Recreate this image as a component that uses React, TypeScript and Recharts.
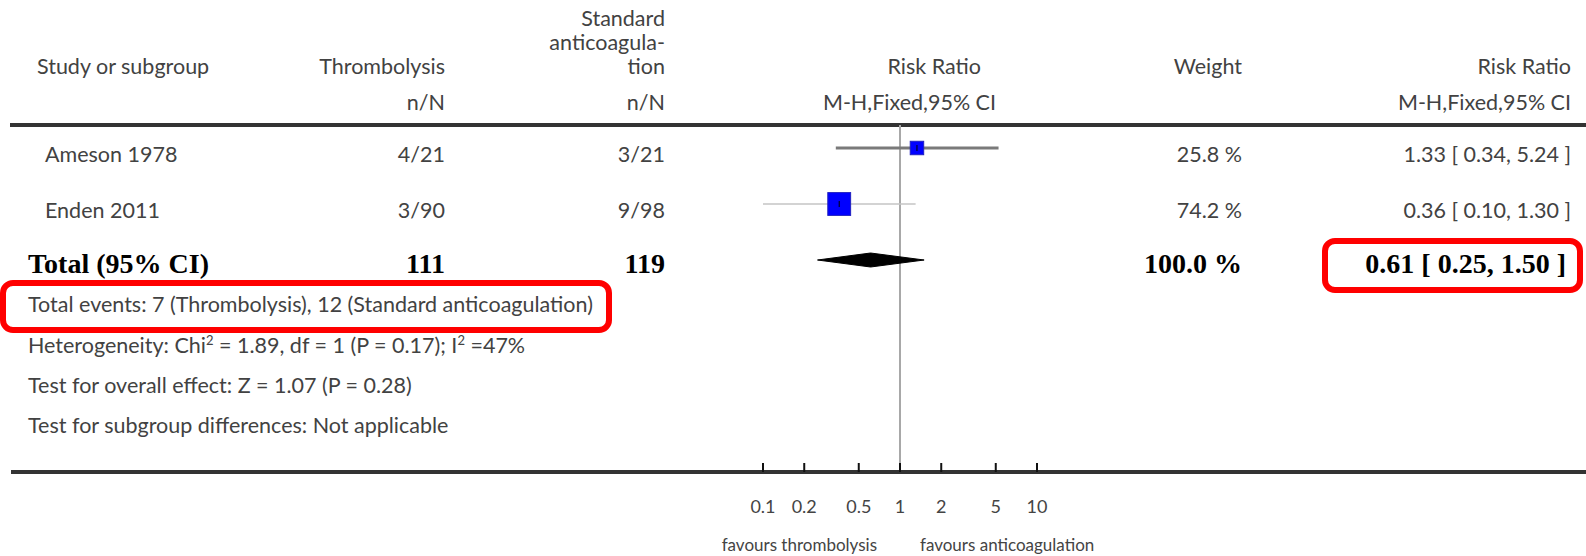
import React from 'react';
import { ComposedChart, XAxis, YAxis, Scatter, ReferenceLine, Customized } from 'recharts';

// ---------- data ----------
const studies = ['Ameson 1978', 'Enden 2011'];
const thrombEvents = [4, 3];
const thrombTotals = [21, 90];
const anticoagEvents = [3, 9];
const anticoagTotals = [21, 98];
const riskRatios = [1.33, 0.36];
const ciLower = [0.34, 0.1];
const ciUpper = [5.24, 1.3];
const weights = [25.8, 74.2];
const rowPositions = [0.46, 1.58];

const totalLabel = 'Total (95% CI)';
const totalThromb = 111;
const totalAnticoag = 119;
const totalRR = 0.61;
const totalLower = 0.25;
const totalUpper = 1.5;
const totalWeight = 100.0;
const totalRowPosition = 2.7;

const axisTicks = [0.1, 0.2, 0.5, 1, 2, 5, 10];
const favoursLeft = 'favours thrombolysis';
const favoursRight = 'favours anticoagulation';

// ---------- layout / style ----------
const W = 1586;
const H = 556;
const TOP = 125;
const AXIS_Y = 472;
const UNIT = 50;
const Y_MAX = (AXIS_Y - TOP) / UNIT;
const SANS = "Lato, 'Open Sans', sans-serif";
const SERIF = "'Liberation Serif', 'DejaVu Serif', serif";
const GREY = '#424242';
const FS = 21.5;
const SQUARE_K = 2.65;
const DIAMOND_HALF = 0.14;
const ciStrokes = ['#7a7a7a', '#c4c4c4'];
const ciWidths = [3, 1.3];

const fmt2 = (v: number) => v.toFixed(2);
const rowBase = (v: number) => TOP + v * UNIT + 14;

const ciData = studies.map((_, i) => [
  { x: ciLower[i], y: rowPositions[i] },
  { x: ciUpper[i], y: rowPositions[i] },
]);
const pointData = studies.map((_, i) => ({ x: riskRatios[i], y: rowPositions[i], w: weights[i] }));
const diamondData = [
  { x: totalLower, y: totalRowPosition },
  { x: totalRR, y: totalRowPosition - DIAMOND_HALF },
  { x: totalUpper, y: totalRowPosition },
  { x: totalRR, y: totalRowPosition + DIAMOND_HALF },
];

const Hidden = () => <g />;

const SquareShape = (props: any) => {
  const { cx, cy, payload } = props;
  const s = SQUARE_K * Math.sqrt(payload.w);
  return (
    <g>
      <rect x={cx - s / 2} y={cy - s / 2} width={s} height={s} fill="#0000ff" stroke="#2020c0" strokeWidth={1} />
      <line x1={cx} x2={cx} y1={cy - 3} y2={cy + 3} stroke="#000" strokeWidth={1} />
    </g>
  );
};

const DiamondLine = (props: any) => {
  const pts = (props.points || []).map((p: any) => `${p.x},${p.y}`).join(' ');
  return <polygon points={pts} fill="#000" stroke="#000" strokeWidth={1} />;
};

const AxisTick = (props: any) => {
  const { x, y, payload } = props;
  return (
    <g>
      <line x1={x} x2={x} y1={y - 9} y2={y} stroke="#111" strokeWidth={2} />
      <text x={x} y={513} textAnchor="middle" fontFamily={SANS} fontSize={18} fill="#444">
        {String(payload.value)}
      </text>
    </g>
  );
};

const TableLayer = () => {
  const t = (x: number, y: number, s: string, anchor: 'start' | 'end' | 'middle' = 'start') => (
    <text x={x} y={y} textAnchor={anchor} fontFamily={SANS} fontSize={FS} fill={GREY}>
      {s}
    </text>
  );
  const b = (x: number, y: number, s: string, anchor: 'start' | 'end' = 'end') => (
    <text x={x} y={y} textAnchor={anchor} fontFamily={SERIF} fontWeight="bold" fontSize={28} fill="#000">
      {s}
    </text>
  );
  const tb = TOP + totalRowPosition * UNIT + 13;
  return (
    <g>
      {/* rules */}
      <line x1={10} x2={W} y1={TOP} y2={TOP} stroke="#333" strokeWidth={4} />
      <line x1={11} x2={W} y1={AXIS_Y} y2={AXIS_Y} stroke="#333" strokeWidth={4} />
      {/* headers */}
      {t(37, 74, 'Study or subgroup')}
      {t(445, 74, 'Thrombolysis', 'end')}
      {t(665, 26, 'Standard', 'end')}
      {t(665, 50, 'anticoagula-', 'end')}
      {t(665, 74, 'tion', 'end')}
      {t(981, 74, 'Risk Ratio', 'end')}
      {t(1242, 74, 'Weight', 'end')}
      {t(1571, 74, 'Risk Ratio', 'end')}
      {t(445, 110, 'n/N', 'end')}
      {t(665, 110, 'n/N', 'end')}
      {t(996, 110, 'M-H,Fixed,95% CI', 'end')}
      {t(1571, 110, 'M-H,Fixed,95% CI', 'end')}
      {/* study rows */}
      {studies.map((s, i) => (
        <g key={s}>
          {t(45, rowBase(rowPositions[i]), s)}
          {t(445, rowBase(rowPositions[i]), `${thrombEvents[i]}/${thrombTotals[i]}`, 'end')}
          {t(665, rowBase(rowPositions[i]), `${anticoagEvents[i]}/${anticoagTotals[i]}`, 'end')}
          {t(1242, rowBase(rowPositions[i]), `${weights[i].toFixed(1)} %`, 'end')}
          {t(1571, rowBase(rowPositions[i]), `${fmt2(riskRatios[i])} [ ${fmt2(ciLower[i])}, ${fmt2(ciUpper[i])} ]`, 'end')}
        </g>
      ))}
      {/* total row */}
      {b(28, tb, totalLabel, 'start')}
      {b(445, tb, String(totalThromb))}
      {b(665, tb, String(totalAnticoag))}
      {b(1242, tb, `${totalWeight.toFixed(1)} %`)}
      {b(1566, tb, `${fmt2(totalRR)} [ ${fmt2(totalLower)}, ${fmt2(totalUpper)} ]`)}
      {/* footers */}
      {t(28, 312, 'Total events: 7 (Thrombolysis), 12 (Standard anticoagulation)')}
      <text x={28} y={353} fontFamily={SANS} fontSize={FS} fill={GREY}>
        Heterogeneity: Chi<tspan fontSize={13} dy={-8}>2</tspan>
        <tspan dy={8}> = 1.89, df = 1 (P = 0.17); I</tspan>
        <tspan fontSize={13} dy={-8}>2</tspan>
        <tspan dy={8}> =47%</tspan>
      </text>
      {t(28, 393, 'Test for overall effect: Z = 1.07 (P = 0.28)')}
      {t(28, 433, 'Test for subgroup differences: Not applicable')}
      {/* favours labels */}
      <text x={877} y={551} textAnchor="end" fontFamily={SANS} fontSize={17} fill="#444">{favoursLeft}</text>
      <text x={920} y={551} textAnchor="start" fontFamily={SANS} fontSize={17} fill="#444">{favoursRight}</text>
      {/* highlight boxes */}
      <rect x={3} y={283} width={606} height={47} rx={10} ry={10} fill="none" stroke="#ff0000" strokeWidth={6} />
      <rect x={1325} y={241} width={255} height={49} rx={10} ry={10} fill="none" stroke="#ff0000" strokeWidth={6} />
    </g>
  );
};

export default function App() {
  return (
    <div style={{ width: W, height: H, background: '#fff' }}>
      <style>{`body{margin:0;background:#fff}`}</style>
      <ComposedChart width={W} height={H} margin={{ top: TOP, right: 412, bottom: 24, left: 626 }}>
        <XAxis
          type="number"
          dataKey="x"
          scale="log"
          domain={[0.01, 100]}
          allowDataOverflow
          ticks={axisTicks}
          interval={0}
          axisLine={false}
          tickLine={false}
          tickSize={0}
          tickMargin={0}
          height={60}
          tick={<AxisTick />}
        />
        <YAxis type="number" dataKey="y" domain={[0, Y_MAX]} reversed hide allowDataOverflow />
        <Customized component={<TableLayer />} />
        <ReferenceLine x={1} stroke="#a8a8a8" strokeWidth={2} ifOverflow="extendDomain" />
        {ciData.map((d, i) => (
          <Scatter
            key={`ci-${i}`}
            data={d}
            isAnimationActive={false}
            shape={<Hidden />}
            line={{ stroke: ciStrokes[i], strokeWidth: ciWidths[i] }}
          />
        ))}
        <Scatter data={pointData} isAnimationActive={false} shape={<SquareShape />} />
        <Scatter data={diamondData} isAnimationActive={false} shape={<Hidden />} line={DiamondLine as any} />
      </ComposedChart>
    </div>
  );
}
